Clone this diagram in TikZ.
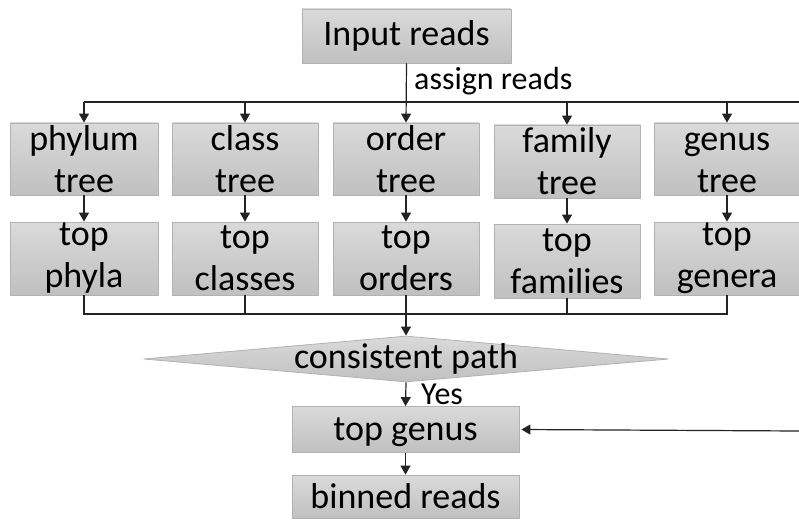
\documentclass[tikz,border=0pt]{standalone}
\usepackage{fontspec}
\setmainfont{Carlito}
\usetikzlibrary{arrows.meta,shapes.geometric}
\definecolor{boxtop}{RGB}{218,218,218}
\definecolor{boxbot}{RGB}{192,192,192}
\definecolor{boxedge}{RGB}{178,178,178}
\definecolor{linec}{RGB}{35,35,35}
\begin{document}
\begin{tikzpicture}[x=1pt,y=-1pt,
  box/.style={draw=boxedge, line width=0.8pt, top color=boxtop, bottom color=boxbot,
    inner sep=0pt, align=center, font=\fontsize{36}{42}\selectfont},
  conn/.style={draw=linec, line width=1.2pt},
  arr/.style={conn, -{Triangle[width=10pt,length=9pt]}},
  lbl/.style={font=\fontsize{32}{38}\selectfont, inner sep=0pt}]
\useasboundingbox (0,0) rectangle (799,521);
% boxes
\node[box, minimum width=209pt, minimum height=54pt] (input) at (406.5,36) {Input reads};
\node[box, minimum width=148pt, minimum height=72pt] (pt) at (84,159) {phylum\\tree};
\node[box, minimum width=146pt, minimum height=72pt] (ct) at (245,159) {class\\tree};
\node[box, minimum width=146pt, minimum height=72pt] (ot) at (406,159) {order\\tree};
\node[box, minimum width=146pt, minimum height=73pt] (ft) at (567,161.5) {family\\tree};
\node[box, minimum width=146pt, minimum height=72pt] (gt) at (727,159) {genus\vphantom{h}\\tree};
\node[box, minimum width=148pt, minimum height=73pt] (pp) at (84,258.5) {top\\phyla};
\node[box, minimum width=146pt, minimum height=73pt] (cc) at (245,258.5) {top\\classes};
\node[box, minimum width=146pt, minimum height=73pt] (oo) at (406,258.5) {top\\orders};
\node[box, minimum width=146pt, minimum height=74pt] (ff) at (567,261) {top\\families};
\node[box, minimum width=146pt, minimum height=73pt] (gg) at (727,258.5) {top\\genera};
\node[diamond, draw=boxedge, line width=0.8pt, top color=boxtop, bottom color=boxbot,
  minimum width=525pt, minimum height=46pt, inner sep=0pt] (cp) at (406,359) {};
\node[inner sep=0pt, font=\fontsize{36}{42}\selectfont] (cptext) at (cp.center) {consistent path};
\node[box, minimum width=227pt, minimum height=46pt, text depth=0pt] (tg) at (405.5,429.5) {top genus};
\node[box, minimum width=227pt, minimum height=43pt] (br) at (405.5,496.5) {binned reads};
% labels
\node[lbl, anchor=west] (assign) at (414,81) {assign reads};
\node[lbl, anchor=west] (yes) at (421,394) {Yes};
% bus lines
\coordinate (bus) at (0,102);
\coordinate (busend) at (799,102);
\coordinate (mrg) at (0,314);
\coordinate (rin) at (799,431);
\draw[conn] (pt.north |- bus) -- (busend);
\draw[arr] (input.south) -- (ot.north);
\draw[arr] (pt.north |- bus) -- (pt.north);
\draw[arr] (ct.north |- bus) -- (ct.north);
\draw[arr] (ft.north |- bus) -- (ft.north);
\draw[arr] (gt.north |- bus) -- (gt.north);
\draw[arr] (pt) -- (pp);
\draw[arr] (ct) -- (cc);
\draw[arr] (ot) -- (oo);
\draw[arr] (ft) -- (ff);
\draw[arr] (gt) -- (gg);
\draw[conn] (pp.south) -- (pp.south |- mrg) -- (gg.south |- mrg) -- (gg.south);
\draw[conn] (cc.south) -- (cc.south |- mrg);
\draw[conn] (ff.south) -- (ff.south |- mrg);
\draw[arr] (oo.south) -- (cp.north);
\draw[arr] (cp.south) -- (tg.north);
\draw[arr] (tg.south) -- (br.north);
\draw[arr, shorten >=2pt] (rin) -- (tg.east);
\end{tikzpicture}
\end{document}
